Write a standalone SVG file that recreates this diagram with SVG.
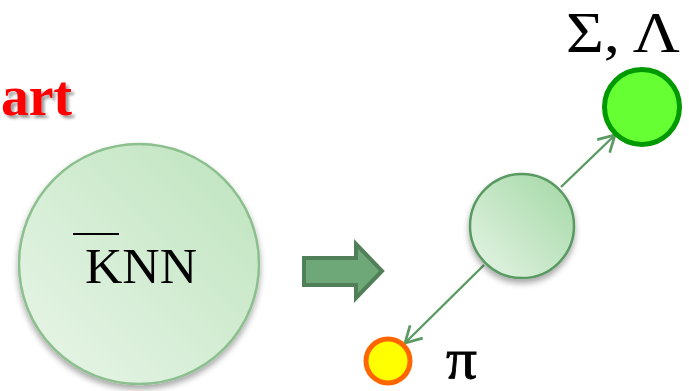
<svg xmlns="http://www.w3.org/2000/svg" width="689" height="391" viewBox="0 0 689 391">
<style>
.serif{font-family:"Liberation Serif","DejaVu Serif",serif;fill:#000}
.conn{stroke:#5a9a62;stroke-width:2.4;fill:none}
</style>
<defs>
<linearGradient id="gBig" x1="0.15" y1="0.85" x2="0.85" y2="0.15">
<stop offset="0" stop-color="#e3f3e3"/>
<stop offset="1" stop-color="#c4e6c4"/>
</linearGradient>
<linearGradient id="gMid" x1="0.15" y1="0.85" x2="0.85" y2="0.15">
<stop offset="0" stop-color="#dcf0dc"/>
<stop offset="1" stop-color="#acdcae"/>
</linearGradient>
<filter id="sh" x="-20%" y="-20%" width="140%" height="150%">
<feGaussianBlur in="SourceAlpha" stdDeviation="3"/>
<feOffset dx="0" dy="4" result="b"/>
<feComponentTransfer><feFuncA type="linear" slope="0.35"/></feComponentTransfer>
<feMerge><feMergeNode/><feMergeNode in="SourceGraphic"/></feMerge>
</filter>
<filter id="tsh" x="-20%" y="-20%" width="140%" height="150%">
<feGaussianBlur in="SourceAlpha" stdDeviation="1.5"/>
<feOffset dx="3" dy="3"/>
<feComponentTransfer><feFuncA type="linear" slope="0.4"/></feComponentTransfer>
<feMerge><feMergeNode/><feMergeNode in="SourceGraphic"/></feMerge>
</filter>
<marker id="open" markerUnits="userSpaceOnUse" markerWidth="22" markerHeight="22" refX="17" refY="10" orient="auto" viewBox="0 0 22 20">
<path d="M1,1 L17,10 L1,19" fill="none" stroke="#5a9a62" stroke-width="2.7"/>
</marker>
</defs>
<rect width="689" height="391" fill="#fff"/>

<g id="title">
<text x="1" y="115" font-family="Liberation Serif, DejaVu Serif, serif" font-weight="bold" font-size="58" fill="#ff0000" filter="url(#tsh)" textLength="71" lengthAdjust="spacingAndGlyphs">art</text>
</g>

<g id="knn">
<circle cx="139" cy="264" r="120" fill="url(#gBig)" stroke="#8cbf8e" stroke-width="2.5" filter="url(#sh)"/>
<line x1="73" y1="234" x2="119" y2="234" stroke="#000" stroke-width="2"/>
<text class="serif" x="85" y="283" font-size="51" textLength="112" lengthAdjust="spacingAndGlyphs">KNN</text>
</g>

<g id="bigArrow">
<path d="M304,258 L356,258 L356,244 L382,271 L356,298 L356,285 L304,285 Z" fill="#6fa878" stroke="#517f57" stroke-width="4" stroke-linejoin="miter"/>
</g>

<g id="connectors">
<line class="conn" x1="561" y1="187" x2="615" y2="135" marker-end="url(#open)"/>
<line class="conn" x1="484" y1="265" x2="405" y2="343" marker-end="url(#open)"/>
</g>

<g id="mid">
<circle cx="522" cy="226" r="52" fill="url(#gMid)" stroke="#5a9a62" stroke-width="2.5" filter="url(#sh)"/>
</g>

<g id="sigmaLambda">
<circle cx="642" cy="107" r="37.5" fill="#66ff33" stroke="#009900" stroke-width="5"/>
<text class="serif" x="566" y="52" font-size="58" textLength="114" lengthAdjust="spacingAndGlyphs">Σ, Λ</text>
</g>

<g id="pion">
<circle cx="388" cy="361" r="22" fill="#ffff00" stroke="#ff6600" stroke-width="5"/>
<text class="serif" x="446" y="378" font-size="56" stroke="#000" stroke-width="0.8" textLength="31" lengthAdjust="spacingAndGlyphs">π</text>
</g>
</svg>
